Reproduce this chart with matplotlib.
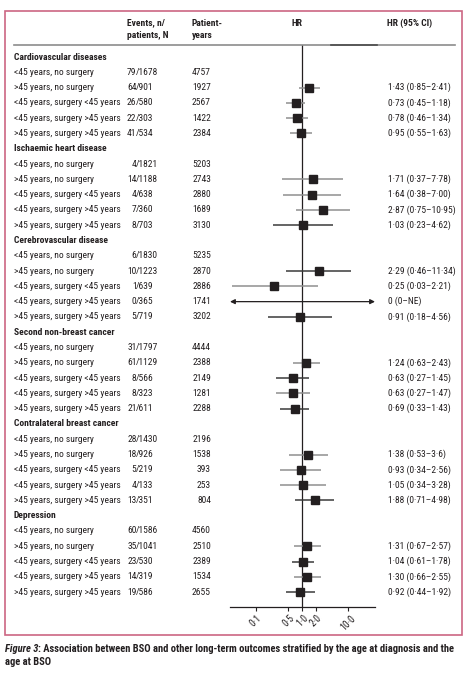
import numpy as np
import matplotlib
matplotlib.use('Agg')
import matplotlib.pyplot as plt
import matplotlib.font_manager as fm
from matplotlib.lines import Line2D
from matplotlib.patches import Rectangle
import matplotlib.transforms as mtransforms

# data
groups = ['Cardiovascular diseases', 'Ischaemic heart disease', 'Cerebrovascular disease',
          'Second non-breast cancer', 'Contralateral breast cancer', 'Depression']
subgroups = ['<45 years, no surgery', '>45 years, no surgery', '<45 years, surgery <45 years',
             '<45 years, surgery >45 years', '>45 years, surgery >45 years']

events = [[79, 64, 26, 22, 41], [4, 14, 4, 7, 8], [6, 10, 1, 0, 5],
          [31, 61, 8, 8, 21], [28, 18, 5, 4, 13], [60, 35, 23, 14, 19]]
patients = [[1678, 901, 580, 303, 534], [1821, 1188, 638, 360, 703], [1830, 1223, 639, 365, 719],
            [1797, 1129, 566, 323, 611], [1430, 926, 219, 133, 351], [1586, 1041, 530, 319, 586]]
pyears = [[4757, 1927, 2567, 1422, 2384], [5203, 2743, 2880, 1689, 3130], [5235, 2870, 2886, 1741, 3202],
          [4444, 2388, 2149, 1281, 2288], [2196, 1538, 393, 253, 804], [4560, 2510, 2389, 1534, 2655]]

nan = np.nan
hr = [[nan, 1.43, 0.73, 0.78, 0.95], [nan, 1.71, 1.64, 2.87, 1.03], [nan, 2.29, 0.25, 0.0, 0.91],
      [nan, 1.24, 0.63, 0.63, 0.69], [nan, 1.38, 0.93, 1.05, 1.88], [nan, 1.31, 1.04, 1.30, 0.92]]
hr_lo = [[nan, 0.85, 0.45, 0.46, 0.55], [nan, 0.37, 0.38, 0.75, 0.23], [nan, 0.46, 0.03, 0.0, 0.18],
         [nan, 0.63, 0.27, 0.27, 0.33], [nan, 0.53, 0.34, 0.34, 0.71], [nan, 0.67, 0.61, 0.66, 0.44]]
hr_hi = [[nan, 2.41, 1.18, 1.34, 1.63], [nan, 7.78, 7.00, 10.95, 4.62], [nan, 11.34, 2.21, np.inf, 4.56],
         [nan, 2.43, 1.45, 1.47, 1.43], [nan, 3.6, 2.56, 3.28, 4.98], [nan, 2.57, 1.78, 2.55, 1.92]]
hr_text = [['', '1·43 (0·85–2·41)', '0·73 (0·45–1·18)', '0·78 (0·46–1·34)', '0·95 (0·55–1·63)'],
           ['', '1·71 (0·37–7·78)', '1·64 (0·38–7·00)', '2·87 (0·75–10·95)', '1·03 (0·23–4·62)'],
           ['', '2·29 (0·46–11·34)', '0·25 (0·03–2·21)', '0 (0–NE)', '0·91 (0·18–4·56)'],
           ['', '1·24 (0·63–2·43)', '0·63 (0·27–1·45)', '0·63 (0·27–1·47)', '0·69 (0·33–1·43)'],
           ['', '1·38 (0·53–3·6)', '0·93 (0·34–2·56)', '1·05 (0·34–3·28)', '1·88 (0·71–4·98)'],
           ['', '1·31 (0·67–2·57)', '1·04 (0·61–1·78)', '1·30 (0·66–2·55)', '0·92 (0·44–1·92)']]
ticks = [0.1, 0.5, 1.0, 2.0, 10.0]
tick_labels = ['0·1', '0·5', '1·0', '2·0', '10·0']
caption_a = 'Figure 3'
caption_b = ': Association between BSO and other long-term outcomes stratified by the age at diagnosis and the'
caption_c = 'age at BSO'

# shade of each CI whisker, as printed
ci_dark = [[0, 0, 0, 0, 0], [0, 0, 0, 0, 1], [0, 1, 0, 1, 1],
           [0, 0, 1, 0, 1], [0, 0, 0, 0, 1], [0, 0, 1, 0, 1]]


def pick_font():
    # the original uses a narrow sans; take the narrowest one installed
    fl = fm.fontManager.ttflist
    prefs = ['Liberation Sans Narrow', 'Roboto Condensed', 'Open Sans Condensed',
             'Noto Sans', 'DejaVu Sans', 'Open Sans', 'Roboto', 'Liberation Sans']
    for p in prefs:
        for f in fl:
            if f.name == p and (f.stretch not in ('normal', 500) or 'Narrow' in p or 'Condensed' in p):
                return p, f.stretch
    for f in fl:
        if 'Narrow' in f.name or 'Condensed' in f.name:
            return f.name, f.stretch
    return 'Liberation Sans', 'normal'


fam, stretch = pick_font()
plt.rcParams['font.family'] = [fam, 'DejaVu Sans']
plt.rcParams['font.stretch'] = stretch

W, H = 471, 676
txt = '#231f20'

fig = plt.figure(figsize=(W / 100, H / 100), dpi=100)
renderer = fig.canvas.get_renderer()


def fit_size(s, target_px, base=7.0, weight='normal'):
    t = fig.text(0, 0, s, fontsize=base, fontweight=weight)
    w = t.get_window_extent(renderer).width
    t.remove()
    return base * target_px / w


fs = min(7.6, fit_size(subgroups[2], 106))
fs_cap = min(8.0, fit_size(caption_a + caption_b, 452, weight='bold'))


def fx(px):
    return px / W


def fy(py):
    return 1 - py / H


row0, drow = 57.0, 15.29
ax_top, ax_bot = 44.7, 607.0
ax = fig.add_axes([fx(230), fy(ax_bot), fx(375) - fx(230), (ax_bot - ax_top) / H])
ax.set_xscale('log')
ax.set_xlim(0.0272, 38.6)
ax.set_ylim((ax_bot - row0) / drow, (ax_top - row0) / drow)
for s in ['top', 'left', 'right']:
    ax.spines[s].set_visible(False)
ax.spines['bottom'].set_color(txt)
ax.spines['bottom'].set_linewidth(0.9)
ax.set_yticks([])
ax.set_xticks(ticks)
ax.set_xticklabels(tick_labels)
ax.minorticks_off()
ax.tick_params(axis='x', direction='out', length=3, width=0.8, color=txt, labelsize=fs + 0.3,
               labelcolor=txt, pad=1.5)
plt.setp(ax.get_xticklabels(), rotation=45, ha='center', va='top')
ax.axvline(1.0, color=txt, lw=0.9, zorder=1)

trans = mtransforms.blended_transform_factory(fig.transFigure, ax.transData)

row = 0
for g in range(len(groups)):
    ax.text(fx(14), row, groups[g], transform=trans, fontsize=fs, fontweight='bold',
            color=txt, va='center', ha='left')
    row += 1
    for k in range(len(subgroups)):
        ax.text(fx(14), row, subgroups[k], transform=trans, fontsize=fs, color=txt, va='center')
        ax.text(fx(136.5), row, str(events[g][k]), transform=trans, fontsize=fs, color=txt,
                va='center', ha='right')
        ax.text(fx(135.8), row, '/' + str(patients[g][k]), transform=trans, fontsize=fs, color=txt,
                va='center', ha='left')
        ax.text(fx(211), row, str(pyears[g][k]), transform=trans, fontsize=fs, color=txt,
                va='center', ha='right')
        if hr_text[g][k]:
            ax.text(fx(387.5), row, hr_text[g][k], transform=trans, fontsize=fs, color=txt,
                    va='center', ha='left')
        v = hr[g][k]
        if np.isnan(v):
            pass
        elif v <= 0:
            # HR of 0 with an open interval: arrow across the whole axis
            ax.annotate('', xy=(1.0, row), xytext=(0.0, row),
                        xycoords=('axes fraction', 'data'), textcoords=('axes fraction', 'data'),
                        arrowprops=dict(arrowstyle='<|-|>', color=txt, lw=0.9,
                                        mutation_scale=7, shrinkA=0, shrinkB=0))
        else:
            c = '#3a3a3a' if ci_dark[g][k] else '#8f8f8f'
            ax.plot([hr_lo[g][k], hr_hi[g][k]], [row, row], color=c, lw=1.1,
                    solid_capstyle='butt', clip_on=False, zorder=2)
            ax.plot([v], [row], marker='s', ms=5.2, color=txt, mec=txt, zorder=3)
        row += 1

# header
hdr = dict(fontsize=fs, fontweight='bold', color=txt, va='center')
fig.text(fx(127), fy(23), 'Events, n/', **hdr)
fig.text(fx(127), fy(35), 'patients, N', **hdr)
fig.text(fx(192), fy(23), 'Patient-', **hdr)
fig.text(fx(192), fy(35), 'years', **hdr)
fig.text(fx(296.5), fy(23), 'HR', ha='center', **hdr)
fig.text(fx(387), fy(23), 'HR (95% CI)', **hdr)

fig.add_artist(Line2D([fx(14), fx(455)], [fy(44.7), fy(44.7)], color='#8c8c8c', lw=1.2,
                      transform=fig.transFigure))
fig.add_artist(Line2D([fx(331), fx(377)], [fy(44.7), fy(44.7)], color='#4d4d4d', lw=1.2,
                      transform=fig.transFigure))

# frame
fig.add_artist(Rectangle((fx(5), fy(635)), fx(462) - fx(5), (635 - 11) / H, fill=False,
                         ec='#cc6683', lw=1.2, transform=fig.transFigure))

# caption
t1 = fig.text(fx(5), fy(649), caption_a, fontsize=fs_cap, fontweight='bold', style='italic',
              color=txt, va='center')
bb = t1.get_window_extent(renderer)
fig.text(bb.x1 / W, fy(649), caption_b, fontsize=fs_cap, fontweight='bold', color=txt, va='center')
fig.text(fx(5), fy(662), caption_c, fontsize=fs_cap, fontweight='bold', color=txt, va='center')

fig.savefig('out.png', dpi=100)
